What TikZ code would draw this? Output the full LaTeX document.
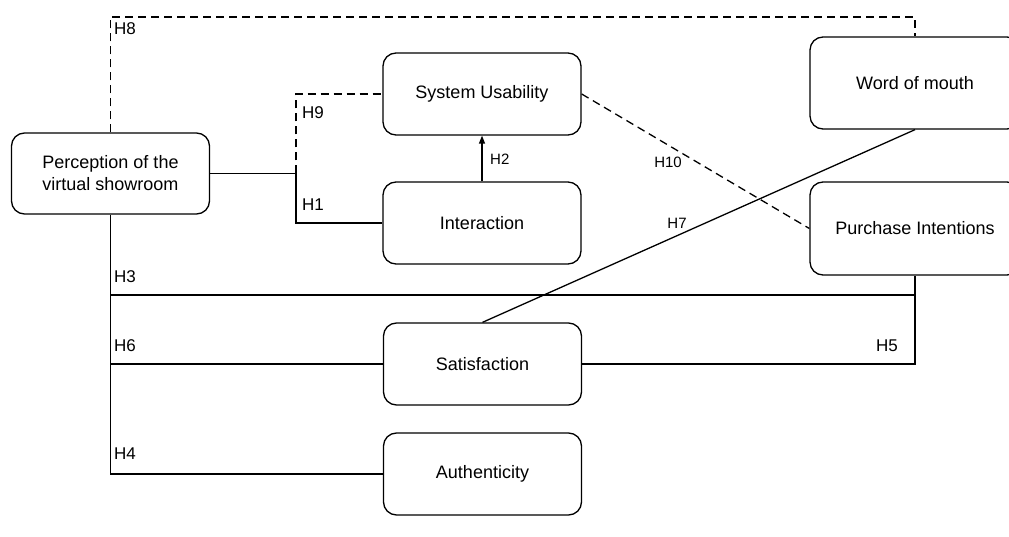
\documentclass[tikz,border=0pt]{standalone}
\usepackage{fontspec}
\setmainfont{Liberation Sans}
\usetikzlibrary{arrows.meta}
\tikzset{
  box/.style={draw, line width=1.3pt, rounded corners=13pt, align=center,
    minimum width=198pt, minimum height=82pt, inner sep=2pt,
    font=\fontsize{18}{22}\selectfont},
  conn/.style={line width=1.3pt},
  dsh/.style={line width=1.3pt, dash pattern=on 8pt off 5pt},
  lab/.style={inner sep=0pt, font=\fontsize{17}{20}\selectfont},
  slab/.style={inner sep=0pt, font=\fontsize{15}{18}\selectfont},
}
\begin{document}
\begin{tikzpicture}[x=1pt,y=-1pt]
\useasboundingbox (0,0) rectangle (1009,537);
\clip (0,0) rectangle (1009,537);
\fill[white] (0,0) rectangle (1009,537);
% nodes
\node[box, minimum height=81pt] (P) at (110.5,173.5) {Perception of the\\virtual showroom};
\node[box] (SU) at (482,94) {System Usability};
\node[box] (I) at (482,223) {Interaction};
\node[box, minimum width=210pt, minimum height=92pt] (W) at (915,83) {Word of mouth};
\node[box, minimum width=210pt, minimum height=93pt] (PI) at (915,228.5) {Purchase Intentions};
\node[box] (S) at (482.5,364) {Satisfaction};
\node[box] (A) at (482.5,474) {Authenticity};
% helper coordinates
\coordinate (t8) at (110.5,17);
\coordinate (j) at (296,173.5);
\coordinate (h3) at (110.5,295);
% connectors
\draw[dsh] (P.north) -- (t8) -| (W.north);
\draw[conn] (P.east) -- (j);
\draw[dsh] (j) |- (SU.west);
\draw[conn] (j) |- (I.west);
\draw[conn, -{Triangle[length=8pt,width=6pt]}] (I.north) -- (SU.south);
\draw[dsh] (SU.east) -- (PI.west);
\draw[conn] (S.north) -- (W.south);
\draw[conn] (P.south) |- (A.west);
\draw[conn] (h3) -| (PI.south);
\draw[conn] (P.south |- S.west) -- (S.west);
\draw[conn] (S.east) -| (PI.south);
% labels
\node[lab, anchor=west] (l8) at (114,29) {H8};
\node[lab, anchor=west] (l9) at (302,113) {H9};
\node[lab, anchor=west] (l1) at (302,205) {H1};
\node[lab, anchor=west] (l3) at (114,277) {H3};
\node[lab, anchor=west] (l6) at (114,346) {H6};
\node[lab, anchor=west] (l4) at (114,454) {H4};
\node[lab, anchor=east] (l5) at (898,346) {H5};
\node[slab, anchor=west] (l2) at (490,159) {H2};
\node[slab] (l10) at (668,162) {H10};
\node[slab] (l7) at (677,223) {H7};
\end{tikzpicture}
\end{document}
